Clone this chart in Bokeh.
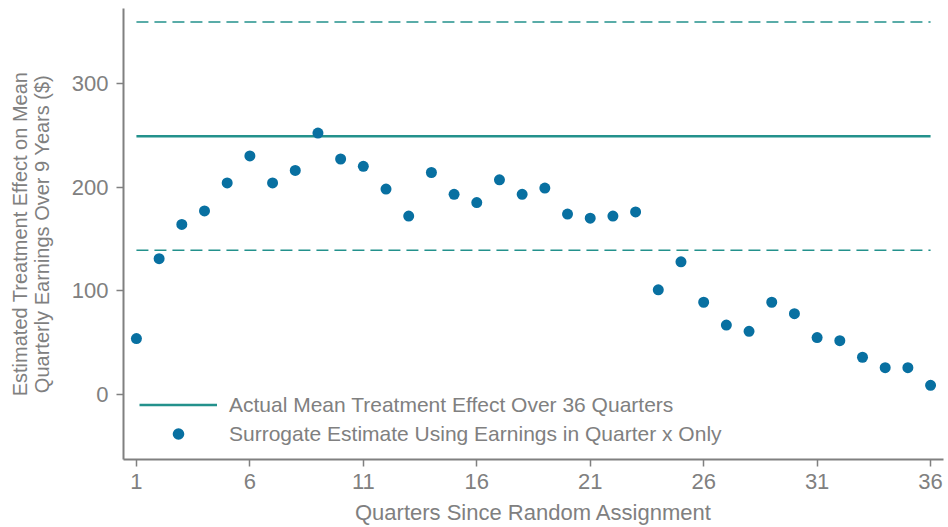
from bokeh.plotting import figure
from bokeh.models import Range1d, FixedTicker, Legend, LegendItem
from bokeh.embed import file_html
from bokeh.resources import INLINE

# ---- data ----
quarters = list(range(1, 37))
surrogate_estimates = [54, 131, 164, 177, 204, 230, 204, 216, 252, 227,
                       220, 198, 172, 214, 193, 185, 207, 193, 199, 174,
                       170, 172, 176, 101, 128, 89, 67, 61, 89, 78,
                       55, 52, 36, 26, 26, 9]
actual_mean = 249
ci_upper = 359
ci_lower = 139
x_ticks = [1, 6, 11, 16, 21, 26, 31, 36]
y_ticks = [0, 100, 200, 300]

TEAL = "#23918c"
BLUE = "#0870a1"
GRAY = "#808080"
FONT = "Liberation Sans"

p = figure(width=948, height=527, output_backend="svg", toolbar_location=None,
           x_range=Range1d(0.43, 36.57), y_range=Range1d(-62.5, 372),
           min_border_left=123, min_border_right=5, min_border_top=8,
           min_border_bottom=0)
p.outline_line_color = None
p.xgrid.visible = False
p.ygrid.visible = False
p.background_fill_color = "white"
p.border_fill_color = "white"

x_span = [quarters[0], quarters[-1]]
r_mean = p.line(x_span, [actual_mean, actual_mean], line_color=TEAL, line_width=2.5)
p.line(x_span, [ci_upper, ci_upper], line_color=TEAL, line_width=1.5, line_dash="12 6")
p.line(x_span, [ci_lower, ci_lower], line_color=TEAL, line_width=1.5, line_dash="12 6")
r_pts = p.scatter(quarters, surrogate_estimates, size=11, fill_color=BLUE,
                  line_color=BLUE, line_width=0)

for ax in (p.xaxis[0], p.yaxis[0]):
    ax.axis_line_color = GRAY
    ax.axis_line_width = 2
    ax.major_tick_line_color = GRAY
    ax.major_tick_line_width = 1.5
    ax.major_tick_in = 0
    ax.major_tick_out = 7
    ax.minor_tick_line_color = None
    ax.major_label_text_color = GRAY
    ax.major_label_text_font = FONT
    ax.major_label_text_font_size = "22px"
    ax.axis_label_text_color = GRAY
    ax.axis_label_text_font = FONT
    ax.axis_label_text_font_style = "normal"

p.xaxis.ticker = FixedTicker(ticks=x_ticks)
p.yaxis.ticker = FixedTicker(ticks=y_ticks)
p.xaxis.axis_label = "Quarters Since Random Assignment"
p.xaxis.axis_label_text_font_size = "22px"
p.xaxis.major_label_standoff = 7
p.xaxis.axis_label_standoff = 8
p.yaxis.axis_label = "Estimated Treatment Effect on Mean\nQuarterly Earnings Over 9 Years ($)"
p.yaxis.axis_label_text_font_size = "20px"
p.yaxis.axis_label_text_line_height = 1.0
p.yaxis.major_label_standoff = 8
p.yaxis.axis_label_standoff = 16

legend = Legend(items=[
    LegendItem(label="Actual Mean Treatment Effect Over 36 Quarters", renderers=[r_mean]),
    LegendItem(label="Surrogate Estimate Using Earnings in Quarter x Only", renderers=[r_pts]),
], location=(16, 11), padding=0, margin=0, spacing=0,
    glyph_width=78, glyph_height=29, label_height=29, label_standoff=12,
    border_line_color=None, background_fill_alpha=0,
    label_text_font=FONT, label_text_font_size="21px", label_text_color=GRAY)
p.add_layout(legend)

open("out.html", "w").write(file_html(p, INLINE))
